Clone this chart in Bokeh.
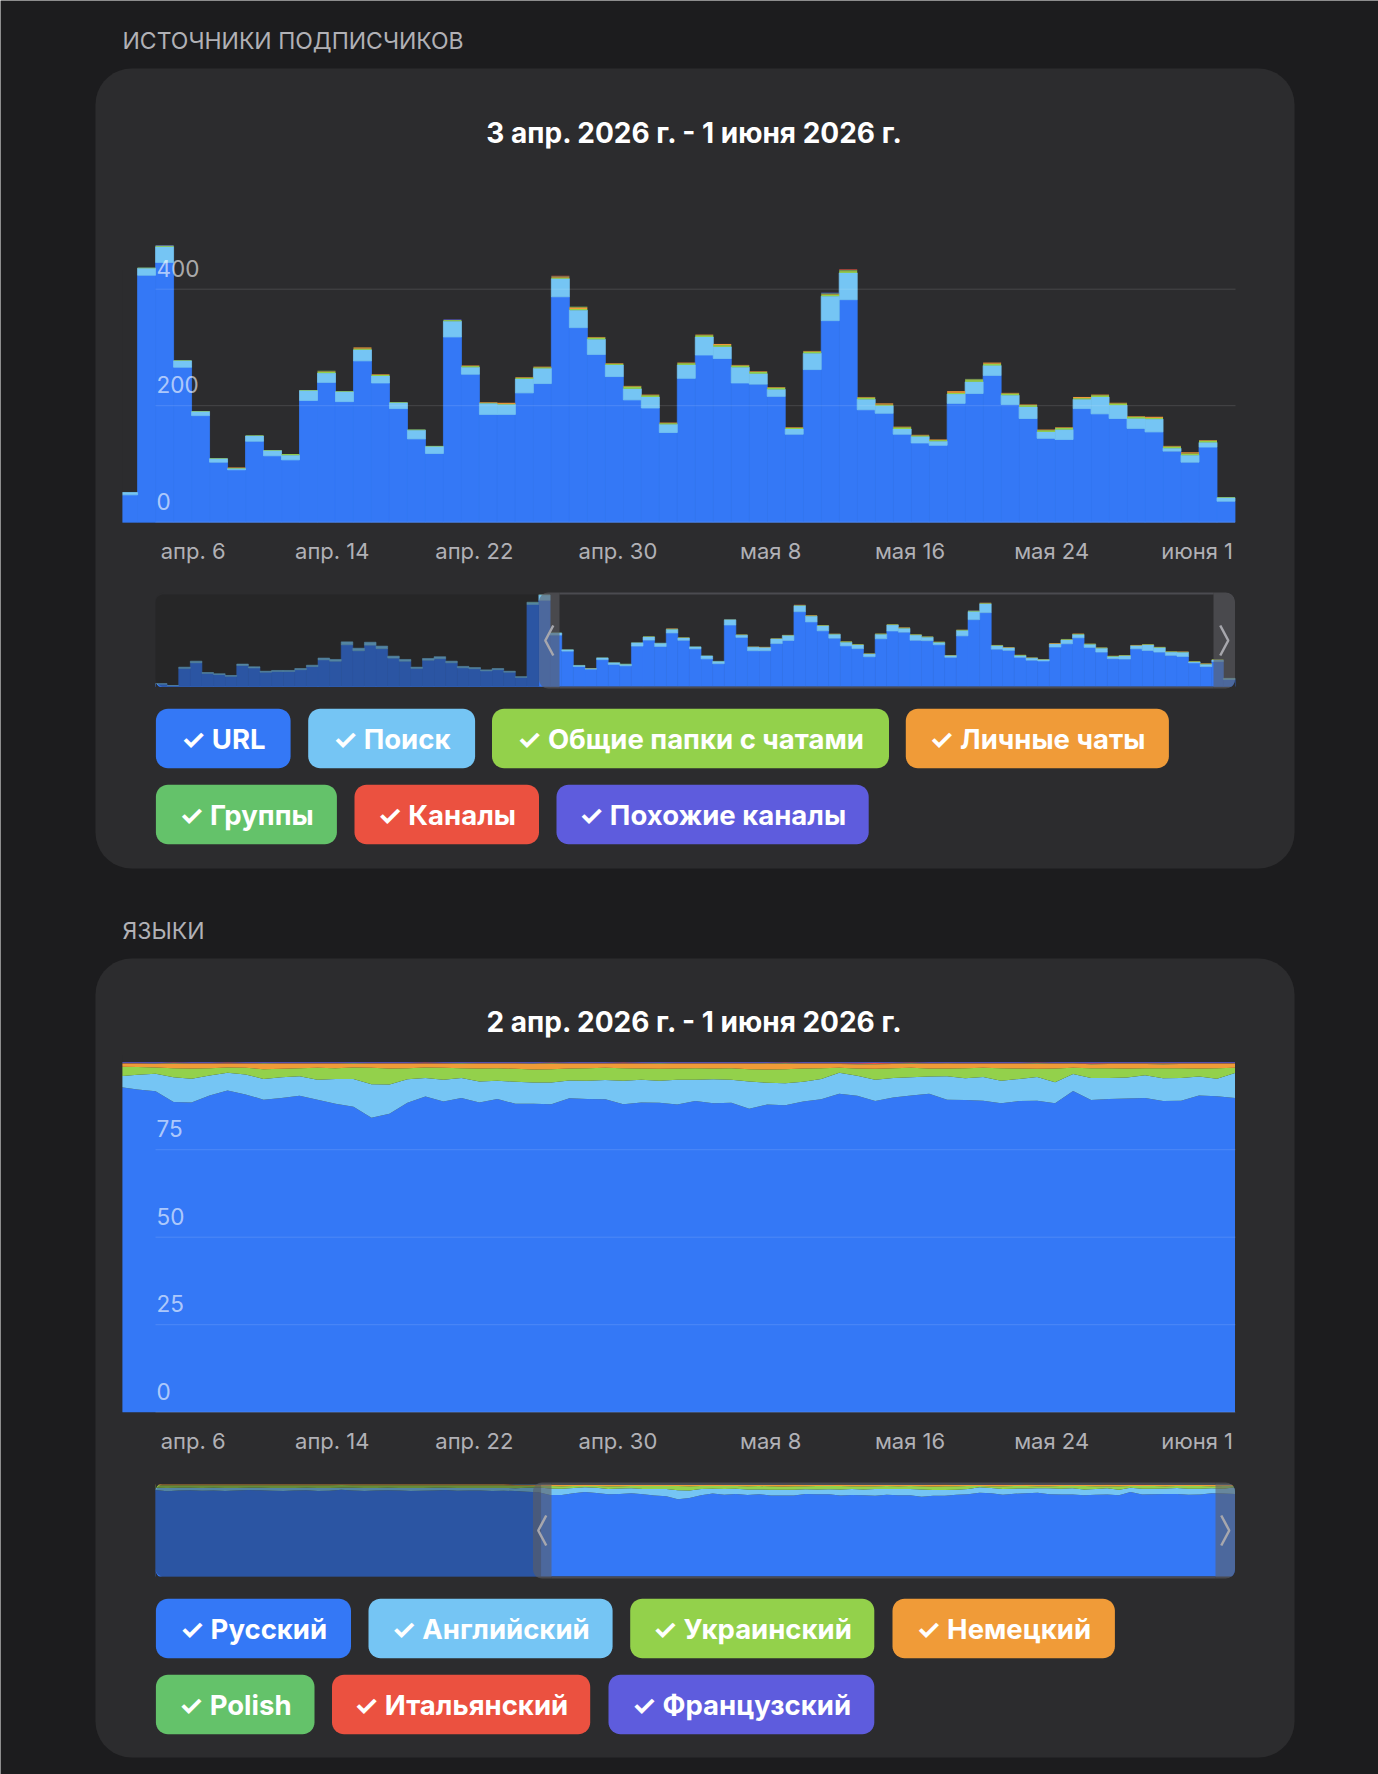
import math
import numpy as np
from bokeh.plotting import figure
from bokeh.models import Range1d, ColumnDataSource
from bokeh.embed import file_html
from bokeh.resources import INLINE
from bokeh.core.properties import value

# ---------------------------------------------------------------- data
# Subscriber sources per day (index 0 = first, partly visible day)
source_names = ["URL", "Поиск", "Общие папки с чатами", "Личные чаты",
                "Группы", "Каналы", "Похожие каналы"]
src_url = [47, 424, 446, 266, 183, 103, 90, 139, 114, 107,
           209, 240, 207, 277, 239, 195, 143, 118, 318, 254,
           185, 185, 222, 238, 387, 334, 288, 250, 210, 196,
           154, 247, 287, 281, 239, 237, 216, 151, 262, 346,
           382, 193, 187, 151, 136, 132, 204, 221, 252, 202,
           178, 144, 142, 195, 186, 178, 161, 155, 122, 103,
           129, 36]
src_search = [4, 12, 27, 11, 7, 6, 2, 9, 9, 8,
              17, 16, 17, 19, 12, 10, 15, 12, 27, 12,
              19, 17, 24, 26, 31, 30, 26, 20, 19, 19,
              14, 23, 31, 20, 27, 18, 12, 9, 28, 42,
              46, 18, 13, 9, 11, 7, 16, 20, 17, 16,
              20, 11, 17, 16, 29, 23, 17, 22, 5, 12,
              8, 6]
src_folders = [0, 1, 2, 1, 1, 1, 1, 1, 1, 2,
               1, 2, 1, 2, 2, 1, 1, 1, 2, 2,
               1, 1, 2, 2, 2, 2, 3, 2, 4, 3,
               2, 3, 3, 3, 3, 3, 3, 2, 3, 3,
               3, 3, 2, 3, 2, 2, 2, 3, 3, 3,
               3, 3, 3, 2, 3, 3, 3, 2, 3, 3,
               3, 1]
src_private = [0, 0, 0, 0, 0, 0, 1, 0, 0, 0,
               0, 1, 0, 2, 1, 0, 0, 0, 0, 1,
               1, 2, 1, 1, 1, 3, 1, 1, 1, 1,
               1, 1, 1, 2, 1, 1, 1, 1, 1, 1,
               1, 1, 2, 1, 1, 1, 3, 1, 2, 1,
               1, 1, 1, 2, 1, 1, 1, 2, 1, 2,
               1, 0]
src_groups = [0, 0, 0, 0, 0, 0, 0, 0, 0, 0,
              0, 1, 0, 0, 0, 0, 0, 0, 0, 0,
              0, 0, 0, 0, 1, 1, 0, 0, 0, 0,
              0, 0, 0, 0, 0, 0, 0, 0, 0, 1,
              1, 0, 0, 0, 0, 0, 0, 1, 0, 0,
              0, 0, 0, 0, 0, 0, 0, 0, 0, 0,
              0, 0]
src_channels = [0, 0, 0, 0, 0, 0, 0, 0, 0, 0,
                0, 0, 0, 0, 0, 0, 0, 0, 0, 0,
                0, 0, 0, 0, 1, 0, 0, 0, 0, 0,
                0, 0, 0, 0, 0, 0, 0, 0, 0, 0,
                1, 0, 0, 0, 0, 0, 0, 0, 0, 0,
                0, 0, 0, 0, 0, 0, 0, 0, 0, 0,
                0, 0]
src_similar = [0, 0, 1, 0, 0, 0, 0, 0, 0, 0,
               0, 0, 0, 0, 0, 0, 0, 0, 1, 0,
               0, 0, 0, 0, 0, 0, 0, 0, 0, 0,
               0, 0, 0, 0, 0, 0, 0, 0, 0, 1,
               0, 0, 0, 0, 0, 0, 0, 0, 0, 0,
               0, 0, 0, 0, 0, 0, 0, 0, 0, 0,
               0, 0]

# Earlier days, shown only in the overview strip
hist_url = [13, 5, 94, 123, 68, 62, 53, 109, 96, 74, 78, 78, 87, 103, 138, 131,
            216, 185, 214, 196, 147, 131, 94, 136, 144, 123, 97, 92, 81, 87, 74]
hist_search = [1, 0, 6, 8, 4, 4, 4, 7, 6, 5, 5, 5, 6, 7, 9, 9,
               15, 13, 15, 13, 10, 9, 6, 9, 10, 8, 7, 6, 5, 6, 5]

# Languages, daily shares in percent (index 0 = first day in view)
lang_names = ["Русский", "Английский", "Украинский", "Немецкий",
              "Polish", "Итальянский", "Французский"]
lang_ru = [92.9, 92.2, 91.7, 88.6, 88.5, 90.5, 91.9, 90.8, 89.3, 89.8,
           90.4, 89.3, 88.1, 87.3, 84.1, 85.3, 88.4, 90.2, 88.8, 89.8,
           88.5, 89.5, 88.1, 88.1, 88.0, 89.7, 89.5, 89.4, 88.0, 88.5,
           88.4, 87.9, 88.9, 88.3, 88.4, 86.7, 87.8, 87.7, 88.8, 89.4,
           91.0, 90.5, 89.0, 89.9, 90.5, 91.0, 89.2, 89.2, 89.0, 88.3,
           88.9, 89.0, 88.3, 91.7, 89.3, 89.5, 89.6, 89.8, 89.0, 89.0,
           90.5, 90.3, 89.8]
lang_en = [3.1, 4.2, 5.0, 7.1, 6.8, 5.7, 5.1, 5.7, 5.9, 5.9,
           5.6, 5.7, 7.1, 7.9, 9.6, 8.3, 6.7, 5.3, 6.2, 5.7,
           6.0, 5.2, 6.3, 6.1, 6.2, 5.1, 5.2, 5.5, 6.7, 6.5,
           6.3, 7.1, 6.1, 6.8, 6.6, 7.8, 6.2, 6.3, 5.6, 5.8,
           6.0, 5.7, 6.1, 5.6, 5.2, 4.9, 6.7, 6.2, 6.8, 6.4,
           6.3, 6.8, 6.0, 4.8, 6.3, 6.0, 6.0, 6.5, 6.5, 6.5,
           5.4, 5.0, 7.1]
lang_ua = [2.7, 2.2, 1.8, 2.6, 2.9, 2.1, 1.5, 1.9, 2.8, 2.4,
           2.3, 3.4, 3.1, 3.3, 4.7, 4.6, 3.2, 3.0, 3.4, 2.8,
           3.7, 3.6, 3.7, 3.7, 3.8, 3.4, 3.6, 3.5, 3.6, 3.2,
           3.4, 3.2, 3.3, 3.1, 3.3, 3.5, 3.8, 4.0, 3.8, 3.1,
           1.4, 2.1, 3.1, 2.8, 2.7, 2.3, 2.2, 2.9, 2.6, 3.6,
           3.0, 2.3, 3.9, 1.8, 2.8, 2.8, 2.6, 2.0, 2.9, 2.8,
           2.3, 3.0, 1.5]
lang_de = [0.8, 0.9, 1.0, 1.2, 1.3, 1.2, 1.0, 1.1, 1.5, 1.4,
           1.2, 1.1, 1.2, 1.0, 1.1, 1.3, 1.2, 1.0, 1.1, 1.2,
           1.3, 1.2, 1.4, 1.6, 1.5, 1.3, 1.2, 1.1, 1.2, 1.3,
           1.4, 1.3, 1.2, 1.3, 1.2, 1.5, 1.7, 1.5, 1.3, 1.2,
           1.1, 1.2, 1.3, 1.2, 1.1, 1.3, 1.4, 1.2, 1.1, 1.2,
           1.3, 1.4, 1.3, 1.2, 1.1, 1.2, 1.3, 1.2, 1.1, 1.2,
           1.3, 1.2, 1.1]
lang_pl = [0.1, 0.1, 0.1, 0.2, 0.1, 0.1, 0.1, 0.1, 0.2, 0.1,
           0.1, 0.1, 0.1, 0.2, 0.1, 0.1, 0.1, 0.1, 0.1, 0.2,
           0.1, 0.1, 0.1, 0.1, 0.2, 0.1, 0.1, 0.1, 0.1, 0.1,
           0.2, 0.1, 0.1, 0.1, 0.1, 0.1, 0.1, 0.2, 0.1, 0.1,
           0.1, 0.1, 0.1, 0.1, 0.2, 0.1, 0.1, 0.1, 0.1, 0.1,
           0.1, 0.2, 0.1, 0.1, 0.1, 0.1, 0.1, 0.1, 0.2, 0.1,
           0.1, 0.1, 0.1]
lang_it = [0.2, 0.2, 0.1, 0.2, 0.2, 0.2, 0.3, 0.2, 0.1, 0.2,
           0.2, 0.2, 0.2, 0.1, 0.2, 0.2, 0.2, 0.3, 0.2, 0.1,
           0.2, 0.2, 0.2, 0.1, 0.2, 0.2, 0.2, 0.2, 0.3, 0.2,
           0.1, 0.2, 0.2, 0.2, 0.2, 0.2, 0.1, 0.2, 0.2, 0.2,
           0.2, 0.2, 0.3, 0.2, 0.2, 0.2, 0.1, 0.2, 0.2, 0.2,
           0.2, 0.2, 0.2, 0.1, 0.2, 0.2, 0.2, 0.2, 0.2, 0.2,
           0.2, 0.2, 0.2]
lang_fr = [0.2, 0.2, 0.3, 0.1, 0.2, 0.2, 0.1, 0.2, 0.2, 0.2,
           0.2, 0.2, 0.2, 0.2, 0.2, 0.2, 0.2, 0.1, 0.2, 0.2,
           0.2, 0.2, 0.2, 0.3, 0.1, 0.2, 0.2, 0.2, 0.1, 0.2,
           0.2, 0.2, 0.2, 0.2, 0.2, 0.2, 0.2, 0.1, 0.2, 0.2,
           0.2, 0.3, 0.2, 0.2, 0.1, 0.2, 0.2, 0.2, 0.2, 0.2,
           0.2, 0.1, 0.2, 0.2, 0.3, 0.2, 0.2, 0.2, 0.2, 0.2,
           0.2, 0.2, 0.2]

hist_ru = [93.5, 92.1, 93.0, 93.4, 92.8, 93.1, 92.6, 92.9, 93.6, 93.2, 92.7,
           92.5, 93.0, 93.3, 92.4, 92.8, 93.9, 93.1, 92.6, 92.9, 93.2, 93.0,
           92.4, 92.8, 93.1, 93.5, 92.7, 92.9, 93.0, 92.6, 92.9]
hist_en = [2.5, 3.6, 2.9, 2.6, 3.0, 2.8, 3.1, 2.9, 2.4, 2.7, 3.0,
           3.2, 2.8, 2.6, 3.3, 3.0, 2.2, 2.8, 3.1, 2.9, 2.7, 2.8,
           3.3, 3.0, 2.8, 2.5, 3.1, 2.9, 2.8, 3.2, 3.1]
hist_ua = [2.8, 3.0, 2.9, 2.8, 3.0, 2.9, 3.1, 3.0, 2.8, 2.9, 3.1,
           3.0, 3.0, 2.9, 3.1, 3.0, 2.8, 2.9, 3.1, 3.0, 2.9, 3.0,
           3.1, 3.0, 2.9, 2.8, 3.0, 3.0, 3.0, 3.0, 3.0]
hist_de = [0.7, 0.8, 0.7, 0.7, 0.7, 0.7, 0.7, 0.7, 0.7, 0.7, 0.7,
           0.8, 0.7, 0.7, 0.7, 0.7, 0.6, 0.7, 0.7, 0.7, 0.7, 0.7,
           0.7, 0.7, 0.7, 0.7, 0.7, 0.7, 0.7, 0.7, 0.7]

# x axis (day index) labels
tick_pos = [4, 12, 20, 28, 36, 44, 52, 60]
tick_labels = ["апр. 6", "апр. 14", "апр. 22", "апр. 30",
               "мая 8", "мая 16", "мая 24", "июня 1"]
src_ticks = [0, 200, 400]
lang_ticks = [0, 25, 50, 75]

# ---------------------------------------------------------------- style
W, H = 1378, 1774
FONT = "Inter"
PAGE_BG = "#1c1c1e"
CARD_BG = "#2c2c2e"
COLORS = ["#3478f6", "#75c5f4", "#93d14b", "#f09b38", "#64c26a", "#eb5140", "#5e5cdd"]
MUTED = "#b1b1b6"


def x_map(v0, px0, v1, px1):
    s = (px1 - px0) / (v1 - v0)
    start = v0 - px0 / s
    return Range1d(start=start, end=start + W / s)


def y_map(v0, py0, v1, py1):
    s = (py0 - py1) / (v1 - v0)
    start = v0 - (H - py0) / s
    return Range1d(start=start, end=start + H / s)


def rrect(x0, y0, x1, y1, r, corners=("tl", "tr", "br", "bl"), n=10):
    xs, ys = [], []
    spec = [("tl", x0 + r, y0 + r, 180, 270, x0, y0),
            ("tr", x1 - r, y0 + r, 270, 360, x1, y0),
            ("br", x1 - r, y1 - r, 0, 90, x1, y1),
            ("bl", x0 + r, y1 - r, 90, 180, x0, y1)]
    for name, cx, cy, a0, a1, px, py in spec:
        if name in corners:
            for a in np.linspace(math.radians(a0), math.radians(a1), n):
                xs.append(cx + r * math.cos(a))
                ys.append(cy + r * math.sin(a))
        else:
            xs.append(px)
            ys.append(py)
    return xs, ys


def corner_masks(x0, y0, x1, y1, r, n=10):
    out = []
    for (px, py, cx, cy, a0, a1) in [(x0, y0, x0 + r, y0 + r, 180, 270),
                                    (x1, y0, x1 - r, y0 + r, 270, 360),
                                    (x1, y1, x1 - r, y1 - r, 0, 90),
                                    (x0, y1, x0 + r, y1 - r, 90, 180)]:
        xs, ys = [px], [py]
        for a in np.linspace(math.radians(a0), math.radians(a1), n):
            xs.append(cx + r * math.cos(a))
            ys.append(cy + r * math.sin(a))
        out.append((xs, ys))
    return out


p = figure(width=W, height=H, x_range=Range1d(0, W), y_range=Range1d(H, 0),
           x_axis_type=None, y_axis_type=None, output_backend="svg",
           toolbar_location=None, min_border=0, outline_line_color=None,
           background_fill_color=PAGE_BG, border_fill_color=PAGE_BG)

# day index -> page pixels, shared by both main charts and both overview strips
p.extra_x_ranges = {"days": x_map(1, 137.1, 62, 1234.5),
                    "all_days": x_map(-31, 155, 62, 1234.5)}
p.extra_y_ranges = {"subs": y_map(0, 521.7, 400, 288.7),
                    "pct": y_map(0, 1411.7, 100, 1061.7),
                    "subs_nav": y_map(0, 686, 476, 594),
                    "pct_nav": y_map(0, 1576, 100, 1484)}


def patch(xs, ys, color, alpha=1.0):
    p.patch(xs, ys, fill_color=color, fill_alpha=alpha, line_color=None)


def label(x, y, text, size, color=MUTED, align="left", style="normal", alpha=1.0, **kw):
    p.text(x=[x], y=[y], text=[text], text_font=value(FONT), text_font_size=f"{size}px",
           text_color=color, text_alpha=alpha, text_align=align, text_baseline="middle",
           text_font_style=style, **kw)


# cards
for (cy0, cy1) in [(68, 868), (958, 1757)]:
    patch(*rrect(95, cy0, 1294, cy1, 36), CARD_BG)

label(122, 40, "ИСТОЧНИКИ ПОДПИСЧИКОВ", 23)
label(122, 930, "ЯЗЫКИ", 23)
label(694.5, 132, "3 апр. 2026 г. - 1 июня 2026 г.", 28, color="white", align="center", style="bold")
label(694.5, 1021, "2 апр. 2026 г. - 1 июня 2026 г.", 28, color="white", align="center", style="bold")

# ---------------------------------------------------------------- chart 1: stacked bars
keys = ["url", "search", "folders", "private", "groups", "channels", "similar"]
main_layers = [src_url, src_search, src_folders, src_private, src_groups, src_channels, src_similar]
n_days = len(src_url)
bars = ColumnDataSource({"x": [i + 0.5 for i in range(n_days)],
                         **{k: v for k, v in zip(keys, main_layers)}})
edge_cols = [COLORS[0], COLORS[1], None, None, None, None, None]
p.vbar_stack(keys, x="x", width=1.0, source=bars, fill_color=COLORS,
             line_color=edge_cols, line_width=0.8,
             x_range_name="days", y_range_name="subs")

# ---------------------------------------------------------------- chart 2: percentage areas
lang_layers = [lang_ru, lang_en, lang_ua, lang_de, lang_pl, lang_it, lang_fr]
lk = ["ru", "en", "ua", "de", "pl", "it", "fr"]
tot = np.sum(np.array(lang_layers, dtype=float), axis=0)
areas = ColumnDataSource({"x": list(range(len(lang_ru))),
                          **{k: list(np.array(v) / tot * 100) for k, v in zip(lk, lang_layers)}})
p.varea_stack(lk, x="x", source=areas, color=COLORS,
              x_range_name="days", y_range_name="pct")

# keep the leftmost partial day inside the plotting area
patch([100, 121.9, 121.9, 100], [270, 270, 523, 523], CARD_BG)
patch([100, 121.9, 121.9, 100], [1055, 1055, 1413, 1413], CARD_BG)

# grid lines and tick labels
for tv in src_ticks:
    p.segment(x0=[155], x1=[1235], y0=[tv], y1=[tv], y_range_name="subs",
              line_color="white", line_alpha=0.13, line_width=1)
p.text(x=[156] * len(src_ticks), y=src_ticks, text=[str(t) for t in src_ticks],
       y_range_name="subs", y_offset=-21, text_font=value(FONT), text_font_size="22.5px",
       text_color="white", text_alpha=0.62, text_baseline="middle")
for tv in lang_ticks:
    p.segment(x0=[155], x1=[1235], y0=[tv], y1=[tv], y_range_name="pct",
              line_color="white", line_alpha=0.13, line_width=1)
p.text(x=[156] * len(lang_ticks), y=lang_ticks, text=[str(t) for t in lang_ticks],
       y_range_name="pct", y_offset=-21, text_font=value(FONT), text_font_size="22.5px",
       text_color="white", text_alpha=0.62, text_baseline="middle")

for ly in (550, 1440.5):
    p.text(x=tick_pos, y=[ly] * len(tick_pos), text=tick_labels, x_range_name="days",
           x_offset=34, text_font=value(FONT), text_font_size="22px", text_color=MUTED,
           text_align="right", text_baseline="middle")

# ---------------------------------------------------------------- overview strips
n_hist = len(hist_url)
hist_layers = [hist_url, hist_search] + [[0] * n_hist] * 5
nav_bars = ColumnDataSource({"x": [i + 0.5 for i in range(-n_hist, n_days)],
                             **{k: list(h) + list(m) for k, h, m in zip(keys, hist_layers, main_layers)}})
p.vbar_stack(keys, x="x", width=1.0, source=nav_bars, fill_color=COLORS,
             line_color=edge_cols, line_width=0.6,
             x_range_name="all_days", y_range_name="subs_nav")

nh = len(hist_ru)
hist_lang = [hist_ru, hist_en, hist_ua, hist_de] + [[0.0] * nh] * 3
nav_lang = [list(h) + list(m) for h, m in zip(hist_lang, lang_layers)]
ntot = np.sum(np.array(nav_lang, dtype=float), axis=0)
nav_areas = ColumnDataSource({"x": list(range(-nh, len(lang_ru))),
                              **{k: list(np.array(v) / ntot * 100) for k, v in zip(lk, nav_lang)}})
p.varea_stack(lk, x="x", source=nav_areas, color=COLORS,
              x_range_name="all_days", y_range_name="pct_nav")


def strip_frame(top, bot, dim_end, lh0, lh1, rh0):
    # dimmed part outside the selected window
    patch(*rrect(155, top, dim_end, bot, 8, corners=("tl", "bl")), "#1c1c1e", 0.38)
    # window border
    p.segment(x0=[lh1, lh1], x1=[rh0, rh0], y0=[top - 1, bot + 1], y1=[top - 1, bot + 1],
              line_color="#4b4b50", line_width=2)
    # handles
    patch(*rrect(lh0, top - 2, lh1, bot + 2, 9, corners=("tl", "bl")), "#5d5d63", 0.6)
    patch(*rrect(rh0, top - 2, 1234.5, bot + 2, 9, corners=("tr", "br")), "#5d5d63", 0.6)
    for xs, ys in corner_masks(155, top - 2, 1234.5, bot + 2, 9):
        patch(xs, ys, CARD_BG)
    mid = (top + bot) / 2
    lc = (lh0 + lh1) / 2
    rc = (rh0 + 1234.5) / 2
    p.line([lc + 4, lc - 4, lc + 4], [mid - 15, mid, mid + 15], line_color="#a7a7ad", line_width=2.5)
    p.line([rc - 4, rc + 4, rc - 4], [mid - 15, mid, mid + 15], line_color="#a7a7ad", line_width=2.5)


strip_frame(594, 686, 538.6, 538.6, 559, 1213)
strip_frame(1484, 1576, 540.6, 532.5, 551, 1215)

# ---------------------------------------------------------------- toggle buttons
src_buttons = [(155.4, 290.1, 708.3), (307.7, 474.6, 708.3), (491.5, 888.5, 708.3),
               (905.3, 1168.4, 708.3), (155.4, 336.4, 784.3), (354, 538.5, 784.3),
               (556, 868.2, 784.3)]
lang_buttons = [(155.4, 350.5, 1598.3), (368, 612.1, 1598.3), (629.7, 873.8, 1598.3),
                (892, 1114.4, 1598.3), (155.4, 314, 1674.3), (331.5, 589.7, 1674.3),
                (608, 873.8, 1674.3)]
for names, boxes in [(source_names, src_buttons), (lang_names, lang_buttons)]:
    for name, color, (bx0, bx1, by0) in zip(names, COLORS, boxes):
        patch(*rrect(bx0, by0, bx1, by0 + 59.4, 12), color)
        label((bx0 + bx1) / 2, by0 + 30, "\u2713 " + name, 27.5, color="white",
              align="center", style="bold")

open("out.html", "w").write(file_html(p, INLINE))
